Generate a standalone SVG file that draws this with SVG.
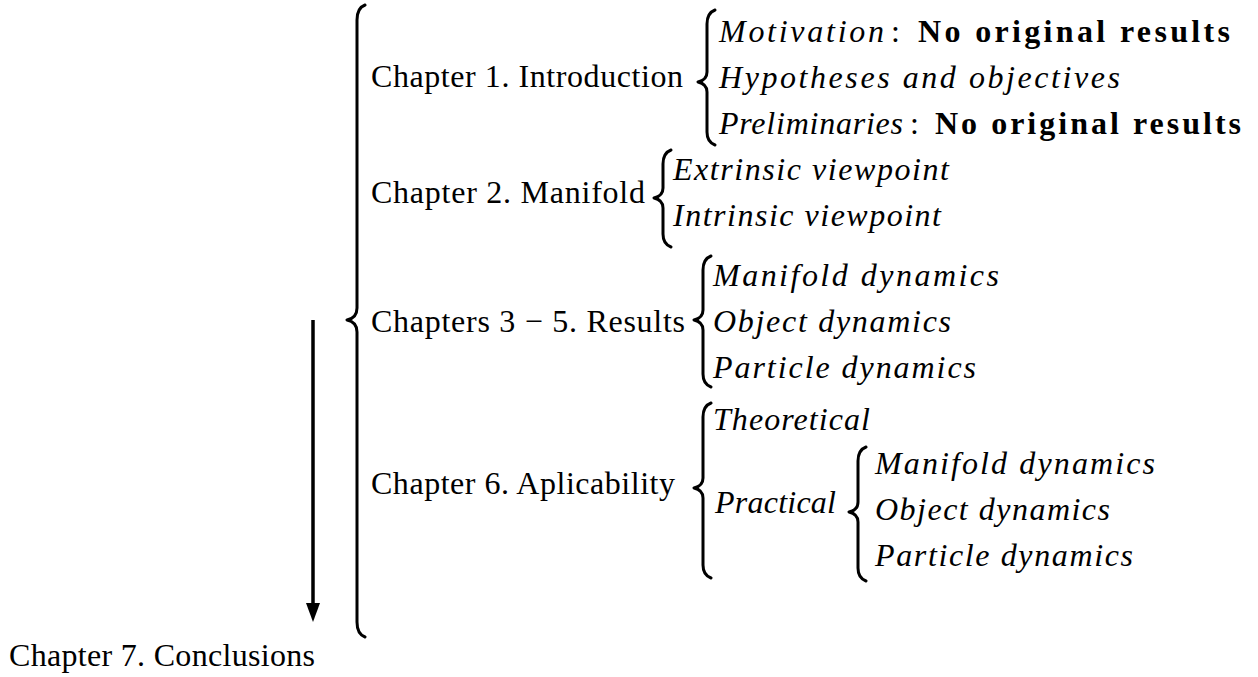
<svg xmlns="http://www.w3.org/2000/svg" width="1258" height="677" viewBox="0 0 1258 677">
<style>
text{font-family:"Liberation Serif","Times New Roman",serif;font-size:32px;fill:#000}
.it{font-style:italic}
.bf{font-weight:bold}
.br{fill:none;stroke:#000;stroke-width:3;stroke-linecap:round;stroke-linejoin:round}
</style>
<rect width="1258" height="677" fill="#fff"/>
<g id="connectors">
<line x1="313" y1="320" x2="313" y2="605" stroke="#000" stroke-width="3.5"/>
<polygon points="306,603 320,603 313,622" fill="#000"/>
</g>
<g id="main-brace">
<path class="br" d="M365,5 Q357,8 357,20 L357,308 Q357,318 347,320 Q357,322 357,332 L357,622 Q357,634 365,637"/>
</g>
<g id="ch7"><text x="9" y="666" textLength="306">Chapter 7. Conclusions</text></g>
<g id="ch1">
<text x="371" y="87" textLength="312">Chapter 1. Introduction</text>
<path class="br" d="M715,10 Q707,13 707,24 L707,72 Q707,80 698,82 Q707,84 707,92 L707,132 Q707,142 715,145"/>
<text class="it" x="719" y="42" textLength="165">Motivation</text>
<text x="891" y="42">:</text>
<text class="bf" x="918" y="42" textLength="312">No original results</text>
<text class="it" x="719" y="88" textLength="401">Hypotheses and objectives</text>
<text class="it" x="719" y="134" textLength="184">Preliminaries</text>
<text x="910" y="134">:</text>
<text class="bf" x="935" y="134" textLength="306">No original results</text>
</g>
<g id="ch2">
<text x="371" y="203" textLength="274">Chapter 2. Manifold</text>
<path class="br" d="M671,150 Q663,153 663,164 L663,188 Q663,196 654,198 Q663,200 663,208 L663,234 Q663,244 671,247"/>
<text class="it" x="673" y="180" textLength="276">Extrinsic viewpoint</text>
<text class="it" x="673" y="226" textLength="268">Intrinsic viewpoint</text>
</g>
<g id="ch3-5">
<text x="371" y="332" textLength="314">Chapters 3 − 5. Results</text>
<path class="br" d="M711,256 Q703,259 703,270 L703,310 Q703,318 694,320 Q703,322 703,330 L703,374 Q703,384 711,387"/>
<text class="it" x="713" y="286" textLength="286">Manifold dynamics</text>
<text class="it" x="713" y="332" textLength="238">Object dynamics</text>
<text class="it" x="713" y="378" textLength="263">Particle dynamics</text>
</g>
<g id="ch6">
<text x="371" y="494" textLength="304">Chapter 6. Aplicability</text>
<path class="br" d="M711,403 Q703,406 703,417 L703,478 Q703,486 694,488 Q703,490 703,498 L703,565 Q703,575 711,578"/>
<text class="it" x="713" y="430" textLength="157">Theoretical</text>
<text class="it" x="715" y="513" textLength="121">Practical</text>
<path class="br" d="M866,447 Q858,450 858,461 L858,502 Q858,510 849,512 Q858,514 858,522 L858,568 Q858,578 866,581"/>
<text class="it" x="875" y="474" textLength="280">Manifold dynamics</text>
<text class="it" x="875" y="520" textLength="235">Object dynamics</text>
<text class="it" x="875" y="566" textLength="258">Particle dynamics</text>
</g>
</svg>
